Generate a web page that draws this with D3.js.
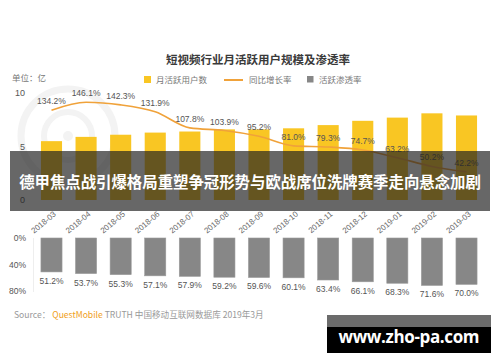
<!DOCTYPE html>
<html>
<head>
<meta charset="utf-8">
<script src="https://cdn.jsdelivr.net/npm/d3@7"></script>
<style>
  body { margin: 0; background: #fff; }
  svg { display: block; font-family: "Liberation Sans", "Noto Sans CJK SC", sans-serif; }
</style>
</head>
<body>
<div id="chart"></div>
<script>
const months = ['2018-03','2018-04','2018-05','2018-06','2018-07','2018-08','2018-09',
                '2018-10','2018-11','2018-12','2019-01','2019-02','2019-03'];
const mau = [5.5, 5.9, 6.1, 6.3, 6.4, 6.6, 6.6, 6.7, 7.0, 7.4, 7.7, 8.1, 7.9];
const growth = [134.2, 146.1, 142.3, 131.9, 107.8, 103.9, 95.2, 81.0, 79.3, 74.7, 63.2, 50.2, 42.2];
const penetration = [51.2, 53.7, 55.3, 57.1, 57.9, 59.2, 59.6, 60.1, 63.4, 66.1, 68.3, 71.6, 70.0];
const mauTicks = [0, 5, 10];
const penTicks = [0, 40, 80];

const w = 500;
const h = 362;
const yellow = '#f9c623';
const orange = '#f0a23a';
const grey = '#878787';
const cjk = '"Noto Sans CJK SC", sans-serif';

const svg = d3.select('#chart')
  .append('svg')
  .attr('width', w)
  .attr('height', h);

// faint logo rings behind the top chart
const ring = svg.append('g').attr('transform', 'translate(68,136)');
ring.append('circle').attr('r', 47).attr('fill', 'none').attr('stroke', '#f3f3f3').attr('stroke-width', 7);
ring.append('circle').attr('r', 24).attr('fill', 'none').attr('stroke', '#f3f3f3').attr('stroke-width', 6);
ring.append('circle').attr('r', 5).attr('fill', '#f3f3f3');

const xScale = d3.scaleBand()
  .domain(months)
  .range([34.2, 483.8])
  .paddingInner(0.39)
  .paddingOuter(0.195);

const yScale = d3.scaleLinear().domain([0, 10]).range([200, 93]);
const gScale = d3.scaleLinear().domain([0, 160]).range([200, 93]);
const pScale = d3.scaleLinear().domain([0, 80]).range([238, 291]);

// title
svg.append('text')
  .attr('x', 258).attr('y', 64)
  .attr('text-anchor', 'middle')
  .style('font-family', cjk)
  .style('font-size', '11.5px')
  .style('font-weight', 'bold')
  .attr('fill', '#3a3a3a')
  .text('短视频行业月活跃用户规模及渗透率');

svg.append('text')
  .attr('x', 12).attr('y', 81)
  .style('font-family', cjk)
  .style('font-size', '8.5px')
  .attr('fill', '#777')
  .text('单位：亿');

// legend
const legend = svg.append('g').style('font-family', cjk).style('font-size', '8.5px').attr('fill', '#777');
legend.append('rect').attr('x', 144).attr('y', 76).attr('width', 7).attr('height', 7).attr('fill', yellow);
legend.append('text').attr('x', 156).attr('y', 82.5).text('月活跃用户数');
legend.append('line').attr('x1', 224).attr('x2', 243).attr('y1', 80).attr('y2', 80)
  .attr('stroke', orange).attr('stroke-width', 2);
legend.append('text').attr('x', 249).attr('y', 82.5).text('同比增长率');
legend.append('rect').attr('x', 307).attr('y', 76).attr('width', 6.5).attr('height', 6.5).attr('fill', grey);
legend.append('text').attr('x', 319).attr('y', 82.5).text('活跃渗透率');

// top y axis
const yAxis = d3.axisLeft(yScale).tickValues(mauTicks).tickSize(0).tickPadding(0);
svg.append('g')
  .attr('transform', 'translate(25,0)')
  .call(yAxis)
  .call(g => g.select('.domain').remove())
  .call(g => g.selectAll('text').attr('fill', '#555').style('font-size', '9px'));

// MAU bars
svg.selectAll('rect.bar')
  .data(mau)
  .enter()
  .append('rect')
  .attr('class', 'bar')
  .attr('x', (d, i) => xScale(months[i]))
  .attr('y', d => yScale(d))
  .attr('width', xScale.bandwidth())
  .attr('height', d => yScale(0) - yScale(d))
  .attr('fill', yellow);

// growth line
const line = d3.line()
  .x((d, i) => xScale(months[i]) + xScale.bandwidth() / 2)
  .y(d => gScale(d))
  .curve(d3.curveMonotoneX);

svg.append('path')
  .datum(growth)
  .attr('d', line)
  .attr('fill', 'none')
  .attr('stroke', orange)
  .attr('stroke-width', 1.6);

svg.selectAll('text.gval')
  .data(growth)
  .enter()
  .append('text')
  .attr('class', 'gval')
  .attr('x', (d, i) => xScale(months[i]) + xScale.bandwidth() / 2)
  .attr('y', d => gScale(d) - 6)
  .attr('text-anchor', 'middle')
  .style('font-size', '8.5px')
  .attr('fill', '#555')
  .text(d => d.toFixed(1) + '%');

// month labels
svg.selectAll('text.month')
  .data(months)
  .enter()
  .append('text')
  .attr('class', 'month')
  .attr('transform', d => `translate(${xScale(d) + xScale.bandwidth() / 2 + 5},215) rotate(-40)`)
  .attr('text-anchor', 'end')
  .style('font-size', '8px')
  .attr('fill', '#666')
  .text(d => d);

// bottom axis
svg.append('line')
  .attr('x1', 33.5).attr('x2', 33.5).attr('y1', 238).attr('y2', 292)
  .attr('stroke', '#eee');

const pAxis = d3.axisLeft(pScale).tickValues(penTicks).tickSize(0).tickPadding(0)
  .tickFormat(d => d + '%');
svg.append('g')
  .attr('transform', 'translate(26,0)')
  .call(pAxis)
  .call(g => g.select('.domain').remove())
  .call(g => g.selectAll('text').attr('fill', '#555').style('font-size', '8.5px'));

svg.selectAll('rect.pen')
  .data(penetration)
  .enter()
  .append('rect')
  .attr('class', 'pen')
  .attr('x', (d, i) => xScale(months[i]))
  .attr('y', pScale(0))
  .attr('width', xScale.bandwidth())
  .attr('height', d => pScale(d) - pScale(0))
  .attr('fill', grey)
  .attr('stroke', '#9a9a9a')
  .attr('stroke-width', 0.6);

svg.selectAll('text.pval')
  .data(penetration)
  .enter()
  .append('text')
  .attr('class', 'pval')
  .attr('x', (d, i) => xScale(months[i]) + xScale.bandwidth() / 2)
  .attr('y', d => pScale(d) + 12)
  .attr('text-anchor', 'middle')
  .style('font-size', '8.5px')
  .attr('fill', '#555')
  .text(d => d.toFixed(1) + '%');

// source
const src = svg.append('text')
  .attr('x', 14).attr('y', 318)
  .style('font-family', cjk)
  .style('font-size', '8.6px')
  .attr('fill', '#999');
src.append('tspan').text('Source：  ');
src.append('tspan').attr('fill', '#f0a020').text('QuestMobile');
src.append('tspan').text(' TRUTH 中国移动互联网数据库 2019年3月');

// headline overlay
svg.append('rect')
  .attr('x', 10).attr('y', 151).attr('width', 480).attr('height', 60)
  .attr('fill', 'rgba(31,31,31,0.68)');
svg.append('text')
  .attr('x', 250).attr('y', 187.5)
  .attr('text-anchor', 'middle')
  .style('font-family', cjk)
  .style('font-size', '15.4px')
  .style('font-weight', 'bold')
  .attr('fill', '#fff')
  .text('德甲焦点战引爆格局重塑争冠形势与欧战席位洗牌赛季走向悬念加剧');

// site badge
svg.append('rect').attr('x', 327).attr('y', 315).attr('width', 164).attr('height', 12).attr('fill', '#6b6b6b');
svg.append('rect').attr('x', 327).attr('y', 327).attr('width', 164).attr('height', 26).attr('fill', '#000');
svg.append('text')
  .attr('x', 409).attr('y', 343)
  .attr('text-anchor', 'middle')
  .style('font-family', '"Open Sans", sans-serif')
  .style('font-size', '17px')
  .style('font-weight', 'bold')
  .attr('textLength', 141)
  .attr('fill', '#fff')
  .text('www.zho-pa.com');
</script>
</body>
</html>
